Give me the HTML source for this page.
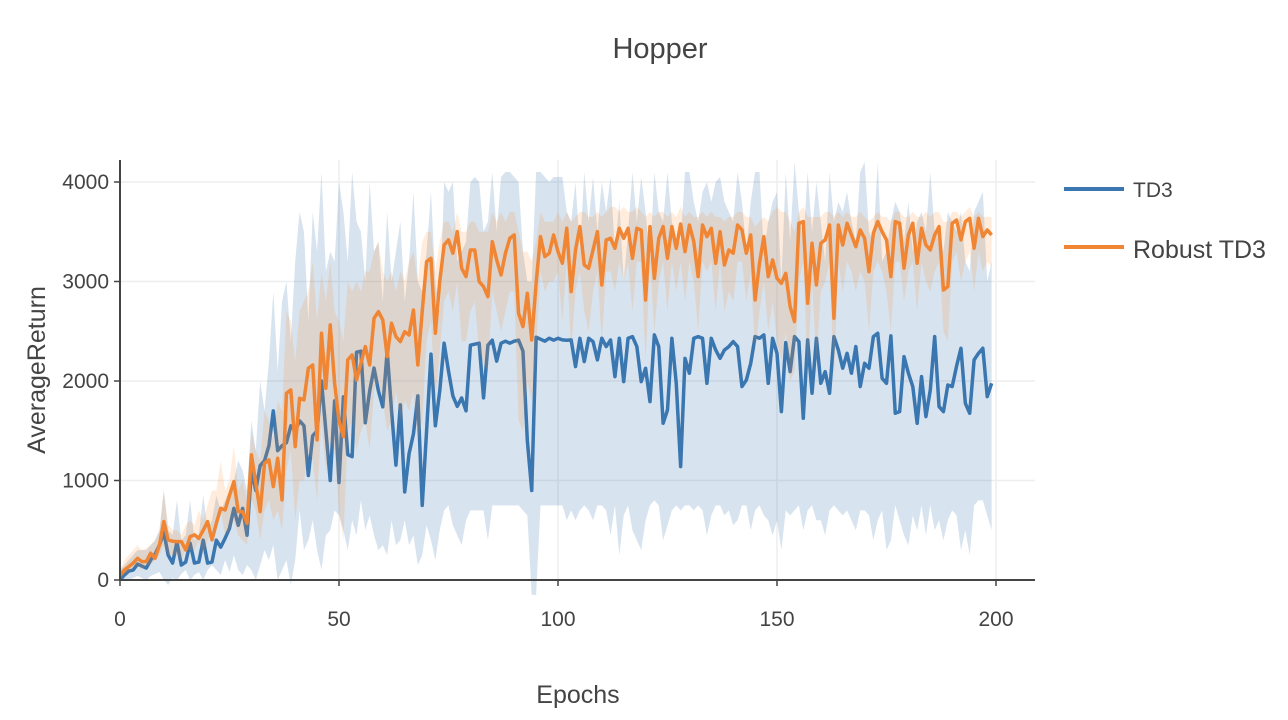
<!DOCTYPE html>
<html><head><meta charset="utf-8"><style>
html,body{margin:0;padding:0;background:#fff;width:1288px;height:720px;overflow:hidden;font-family:"Liberation Sans",sans-serif;}
svg text{font-family:"Liberation Sans",sans-serif;fill:#444;}
</style></head><body>
<svg id="chart" width="1288" height="720" viewBox="0 0 1288 720" xmlns="http://www.w3.org/2000/svg"></svg>
<script>
const epochs = Array.from({length:200},(_,i)=>i);
const td3Mean = [0,50,90,100,160,140,120,200,260,350,
480,250,170,380,150,180,370,170,180,400,
170,180,400,330,420,520,720,550,720,450,
1100,900,1150,1200,1350,1700,1300,1350,1380,1550,
1500,1600,1550,1050,1450,1500,2000,1500,1000,1800,
980,1840,1260,1240,2290,2300,1580,1900,2130,1900,
1740,2300,1700,1155,1760,885,1270,1470,1850,750,
1500,2270,1550,1900,2380,2100,1850,1745,1830,1700,
2360,2370,2380,1830,2360,2410,2200,2380,2400,2380,
2400,2410,2300,1400,900,2440,2420,2400,2430,2410,
2429,2413,2410,2413,2145,2429,2195,2429,2396,2212,
2430,2346,2413,2044,2429,1994,2430,2446,2346,1994,
2128,1793,2463,2346,1575,1709,2429,1977,1140,2228,
2078,2429,2446,2429,1977,2429,2312,2228,2312,2346,
2396,2346,1944,2010,2178,2446,2430,2463,1977,2429,
2278,1692,2386,2094,2446,2396,1625,2413,1877,2429,
1977,2094,1877,2446,2312,2128,2278,2078,2346,1944,
2178,2128,2446,2480,2027,1977,2453,1676,1692,2245,
2078,1944,1575,2044,1642,1910,2446,1743,1692,1960,
1944,2150,2329,1776,1676,2212,2278,2329,1843,1977];
const robustMean = [51,100,134,170,218,185,185,269,218,350,
587,403,390,386,386,302,436,453,419,500,
587,403,570,721,704,850,989,687,687,570,
1257,972,687,1173,1207,939,1224,805,1877,1910,
1341,1826,1810,2128,2161,1408,2480,1927,2564,1977,
1600,1441,2212,2262,2010,2178,2346,2161,2630,2697,
2614,2245,2580,2446,2396,2496,2463,2714,2161,2700,
3200,3233,2480,3000,3367,3418,3284,3501,3133,3049,
3317,3317,2999,2949,2848,3401,3217,3066,3284,3434,
3468,2681,2547,2882,2413,2982,3451,3250,3284,3468,
3300,3183,3535,2898,3317,3552,3166,3133,3317,3501,
2965,3418,3434,3334,3535,3434,3535,3233,3535,3518,
2814,3552,3032,3434,3552,3233,3552,3334,3578,3300,
3568,3401,3049,3568,3451,3535,3183,3501,3166,3317,
3284,3568,3518,3284,3468,2814,3183,3451,3049,3217,
3032,2982,3082,2747,2597,3585,3602,2781,3384,2965,
3384,3418,3568,2630,3568,3367,3585,3468,3350,3518,
3434,3099,3485,3602,3501,3418,3049,3602,3585,3133,
3468,3585,3183,3535,3367,3317,3468,3552,2915,2949,
3585,3618,3418,3602,3635,3334,3635,3451,3518,3468];
const td3Upper = [100,150,200,250,300,300,300,350,400,500,
900,500,450,800,400,450,800,400,450,850,
500,600,850,700,800,900,1000,1200,1100,900,
1600,1300,2000,1700,2200,2900,2100,2800,3000,2400,
3200,3700,3500,2600,3700,3300,4100,3100,3300,3200,
4000,3700,3200,4100,3600,3500,3000,4000,3300,3400,
2800,3700,3000,3300,3600,2800,3200,3900,3000,2900,
3300,3900,3000,2700,4000,3900,4000,3200,3300,3400,
4000,4050,4000,3500,3600,4100,3500,4050,4100,4100,
4050,4000,3300,3000,3000,4100,4100,4050,4000,4050,
4050,4050,3700,3600,4000,3300,4100,3600,4050,3500,
4000,3700,4050,3300,3800,3000,3500,4100,3600,4050,
3700,3200,4100,3700,3600,4100,3600,3400,3400,4100,
4100,3800,3600,3900,4000,3800,4000,4050,3800,3700,
3600,4100,3800,3300,3800,4100,4100,3300,3600,3800,
3900,3000,4100,3400,4200,3700,3400,4100,3500,4000,
3600,3200,4100,3600,3800,3700,3900,3600,3400,4100,
4200,3500,3400,4200,3200,3300,3600,3800,3700,3400,
3800,3300,3600,3700,3500,4100,3500,3500,3300,3700,
3600,3500,3700,3200,3100,3700,3800,3900,3000,3200];
const td3Lower = [0,0,0,20,40,20,0,40,60,80,
0,-50,20,0,60,100,0,50,80,0,
100,150,100,50,200,80,250,100,50,150,
100,0,150,300,200,350,0,100,200,-50,
200,700,300,400,600,300,100,450,500,700,
650,500,300,600,450,800,500,650,450,300,
350,250,600,350,400,600,350,450,150,250,
550,400,200,500,700,750,550,450,350,600,
700,700,700,700,400,750,750,750,750,750,
750,750,700,650,-150,-150,750,750,750,750,
750,750,600,700,600,700,750,700,600,750,
750,700,450,750,250,650,750,500,400,300,
600,750,800,750,400,550,700,750,700,750,
750,700,750,700,450,650,750,750,650,700,
550,600,750,750,500,700,750,650,600,450,
600,300,700,650,700,750,500,700,750,600,
600,450,700,750,700,650,700,600,500,700,
700,650,400,600,700,300,400,750,600,450,
350,650,500,750,450,750,500,600,400,600,
700,650,300,500,250,750,800,800,650,500];
const robustUpper = [100,200,250,300,350,300,320,350,400,500,
900,550,500,500,450,550,600,550,700,600,
750,900,900,1200,900,1000,1350,900,1000,800,
1500,1300,1200,1700,1600,1400,1800,1700,2700,2600,
2200,2700,2800,2900,3200,2600,3100,2800,3200,2700,
2600,2400,3000,2900,3000,2900,3100,3100,3300,3400,
3100,3000,3100,2900,3100,3000,3200,3300,3000,3400,
3500,3500,3100,3400,3600,3600,3500,3700,3500,3500,
3600,3600,3500,3500,3500,3700,3600,3700,3600,3700,
3700,3500,3300,3300,3200,3400,3700,3600,3600,3600,
3700,3600,3700,3600,3650,3700,3700,3650,3650,3700,
3650,3700,3750,3750,3700,3750,3700,3700,3750,3700,
3650,3700,3650,3700,3700,3650,3700,3650,3750,3650,
3700,3650,3650,3700,3650,3700,3650,3650,3600,3650,
3650,3700,3700,3650,3650,3550,3600,3650,3600,3700,
3750,3700,3700,3600,3500,3700,3750,3650,3650,3650,
3650,3700,3700,3650,3700,3650,3700,3650,3650,3700,
3650,3600,3650,3700,3650,3650,3600,3700,3700,3650,
3650,3700,3650,3650,3700,3650,3700,3700,3600,3600,
3700,3700,3650,3700,3750,3650,3700,3650,3650,3650];
const robustLower = [0,50,80,120,150,100,150,150,200,250,
350,250,250,250,200,300,300,300,400,250,
400,500,500,700,450,500,600,450,400,350,
800,700,400,700,800,600,700,500,1100,1300,
600,1000,1000,1300,1200,800,1600,1100,1400,1300,
700,400,1500,1600,1300,1500,1600,1300,1900,2000,
1800,1500,1600,1900,1600,1800,1700,1900,1400,1600,
2400,2600,1800,2300,2800,2900,2700,3000,2400,2400,
2700,2800,2300,2200,2100,2900,2700,2500,2700,2900,
2900,1600,1500,2000,1800,2300,3100,2900,3000,3000,
3100,2600,3200,2300,2900,3100,2700,2500,2900,3100,
2400,3100,3100,2900,3200,3000,3200,2700,3200,3200,
2200,3200,2500,3000,3200,2700,3200,2900,3200,2800,
3200,3000,2500,3200,3100,3200,2700,3200,2700,2900,
2800,3200,3200,2800,3100,2300,2700,3000,2500,2800,
2400,2200,2500,2000,2100,3000,3200,2100,3000,2200,
2900,3000,3200,2000,3200,2900,3200,3100,2900,3100,
3000,2500,3100,3200,3100,2900,2500,3200,3200,2800,
3100,3200,2700,3200,3000,2900,3100,3200,2500,2400,
3200,3300,3000,3200,3300,2900,3300,3100,3200,3150];
const xTicks = [0,50,100,150,200];
const yTicks = [0,1000,2000,3000,4000];

const NS='http://www.w3.org/2000/svg';
const svg=document.getElementById('chart');
const X0=120,X1=1035,Y0=580;
function xs(v){return 120+v*4.38;}
function ys(v){return 580-v*0.0995;}
function el(tag,attrs,parent){const e=document.createElementNS(NS,tag);for(const k in attrs)e.setAttribute(k,attrs[k]);(parent||svg).appendChild(e);return e;}

// grid
yTicks.forEach(t=>{if(t===0)return;
const g=el('line',{x1:X0,x2:X1,y1:ys(t),y2:ys(t),stroke:'#eee','stroke-width':1.5});

});
xTicks.forEach(t=>{if(t===0)return;
const g=el('line',{x1:xs(t),x2:xs(t),y1:160,y2:Y0,stroke:'#eee','stroke-width':1.5});

});

function band(up,lo,fill,name){
  let d='M'+epochs.map(i=>xs(i)+','+ys(up[i])).join('L');
  d+='L'+epochs.slice().reverse().map(i=>xs(i)+','+ys(lo[i])).join('L')+'Z';
  const p=el('path',{d:d,fill:fill,stroke:'none'});
  
  
}
function line(vals,color,name){
  const d='M'+epochs.map(i=>xs(i)+','+ys(vals[i])).join('L');
  const p=el('path',{d:d,fill:'none',stroke:color,'stroke-width':3.5,'stroke-linejoin':'round'});
  
  
}
band(td3Upper,td3Lower,'rgba(54,116,173,0.2)','td3-band');
line(td3Mean,'#3a76af','td3-line');
band(robustUpper,robustLower,'rgba(255,140,50,0.17)','robust-td3-band');
line(robustMean,'#f08634','robust-td3-line');

// axes
const ya=el('line',{x1:X0,x2:X0,y1:160,y2:Y0+1,stroke:'#444','stroke-width':2});


const xa=el('line',{x1:X0-1,x2:X1,y1:Y0,y2:Y0,stroke:'#444','stroke-width':2});



xTicks.forEach(t=>{
  const tk=el('line',{x1:xs(t),x2:xs(t),y1:Y0,y2:Y0+6,stroke:'#444','stroke-width':1.5});
  
  
  const tx=el('text',{x:xs(t),y:626,'text-anchor':'middle','font-size':21});
  tx.textContent=t;
  
  
});
yTicks.forEach(t=>{
  const tk=el('line',{x1:X0-6,x2:X0,y1:ys(t),y2:ys(t),stroke:'#444','stroke-width':1.5});
  
  
  const tx=el('text',{x:109,y:ys(t)+7,'text-anchor':'end','font-size':21});
  tx.textContent=t;
  
  
});

const title=el('text',{x:660,y:58,'text-anchor':'middle','font-size':29});
title.textContent='Hopper';


const xt=el('text',{x:578,y:703,'text-anchor':'middle','font-size':25});
xt.textContent='Epochs';


const yt=el('text',{x:0,y:0,'text-anchor':'middle','font-size':25,transform:'translate(45,370) rotate(-90)'});
yt.textContent='AverageReturn';



// legend
const l1=el('line',{x1:1064,x2:1124,y1:189,y2:189,stroke:'#3a76af','stroke-width':4});


const t1=el('text',{x:1133,y:197,'font-size':21});
t1.textContent='TD3';


const l2=el('line',{x1:1064,x2:1124,y1:247,y2:247,stroke:'#f08634','stroke-width':4});


const t2=el('text',{x:1133,y:258,'font-size':25});
t2.textContent='Robust TD3';


</script>
</body></html>
